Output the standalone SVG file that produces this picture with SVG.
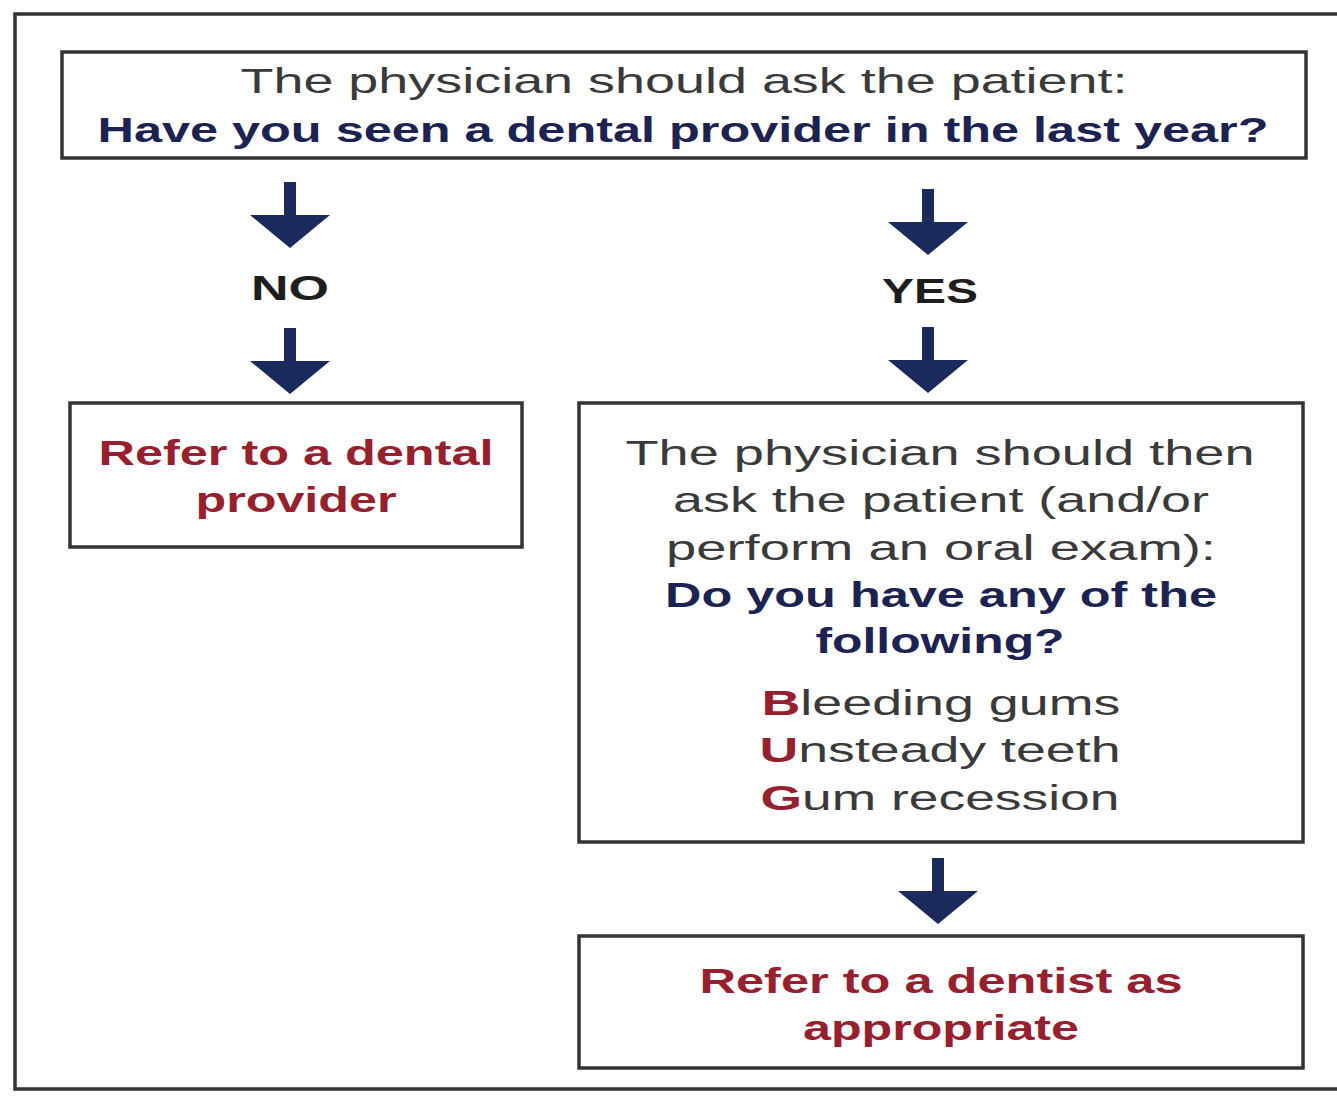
<svg xmlns="http://www.w3.org/2000/svg" width="1337" height="1114" viewBox="0 0 1337 1114">
  <style>
    .frame { fill: none; stroke: #333; stroke-width: 3.5; }
    .box { fill: #fff; stroke: #333; stroke-width: 3.5; }
    .arrow { fill: #1a2a5c; }
    text { font-family: "Liberation Sans", Arial, sans-serif; font-size: 35px; text-anchor: middle; }
    .plain { fill: #3a3a3a; }
    .ask { fill: #1c2352; font-weight: bold; }
    .refer { fill: #97202e; font-weight: bold; }
    .label { fill: #1e1e1e; font-weight: bold; }
    .init { fill: #97202e; }
  </style>
  <defs>
    <!-- block down arrow, tip at origin -->
    <path id="down" d="M -6 -66 L 6 -66 L 6 -33 L 40 -33 L 0 0 L -40 -33 L -6 -33 Z"/>
  </defs>

  <rect width="1337" height="1114" fill="#fff"/>
  <!-- outer frame, open to the right -->
  <path class="frame" d="M 1340 14 L 15 14 L 15 1089 L 1340 1089"/>

  <g id="connectors">
    <use href="#down" class="arrow" x="290" y="248"/>
    <use href="#down" class="arrow" x="290" y="394"/>
    <use href="#down" class="arrow" x="928" y="255"/>
    <use href="#down" class="arrow" x="928" y="393"/>
    <use href="#down" class="arrow" x="938" y="924"/>
    <text class="label" x="290" y="300" textLength="78" lengthAdjust="spacingAndGlyphs">NO</text>
    <text class="label" x="930" y="303" textLength="96" lengthAdjust="spacingAndGlyphs">YES</text>
  </g>

  <g id="question">
    <rect class="box" x="62" y="52" width="1244" height="106"/>
    <text class="plain" x="684" y="93" textLength="887" lengthAdjust="spacingAndGlyphs">The physician should ask the patient:</text>
    <text class="ask" x="683" y="142" textLength="1171" lengthAdjust="spacingAndGlyphs">Have you seen a dental provider in the last year?</text>
  </g>

  <g id="refer-provider">
    <rect class="box" x="70" y="403" width="452" height="144"/>
    <text class="refer" x="296" y="465" textLength="395" lengthAdjust="spacingAndGlyphs">Refer to a dental</text>
    <text class="refer" x="296" y="512" textLength="201" lengthAdjust="spacingAndGlyphs">provider</text>
  </g>

  <g id="oral-check">
    <rect class="box" x="579" y="403" width="724" height="439"/>
    <text class="plain" x="940" y="465" textLength="629" lengthAdjust="spacingAndGlyphs">The physician should then</text>
    <text class="plain" x="941" y="512" textLength="536" lengthAdjust="spacingAndGlyphs">ask the patient (and/or</text>
    <text class="plain" x="941" y="560" textLength="550" lengthAdjust="spacingAndGlyphs">perform an oral exam):</text>
    <text class="ask" x="941" y="607" textLength="552" lengthAdjust="spacingAndGlyphs">Do you have any of the</text>
    <text class="ask" x="940" y="653" textLength="249" lengthAdjust="spacingAndGlyphs">following?</text>
    <text class="plain" x="941" y="715" textLength="359" lengthAdjust="spacingAndGlyphs"><tspan class="init" font-weight="bold">B</tspan>leeding gums</text>
    <text class="plain" x="940" y="762" textLength="361" lengthAdjust="spacingAndGlyphs"><tspan class="init" font-weight="bold">U</tspan>nsteady teeth</text>
    <text class="plain" x="940" y="810" textLength="359" lengthAdjust="spacingAndGlyphs"><tspan class="init" font-weight="bold">G</tspan>um recession</text>
  </g>

  <g id="refer-dentist">
    <rect class="box" x="579" y="936" width="724" height="132"/>
    <text class="refer" x="941" y="993" textLength="483" lengthAdjust="spacingAndGlyphs">Refer to a dentist as</text>
    <text class="refer" x="941" y="1040" textLength="276" lengthAdjust="spacingAndGlyphs">appropriate</text>
  </g>
</svg>
